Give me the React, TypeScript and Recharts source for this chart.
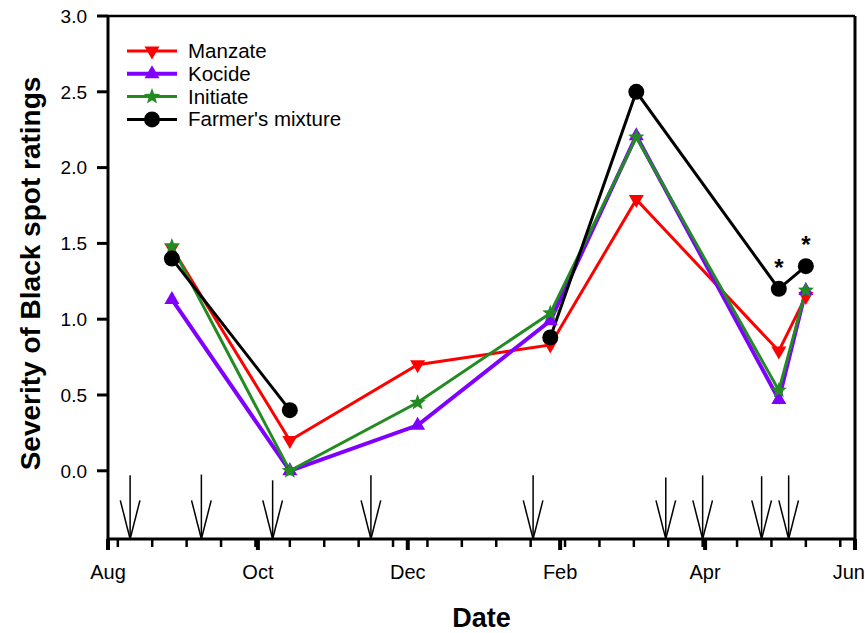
import React from 'react';
import {
  LineChart,
  Line,
  XAxis,
  YAxis,
  ReferenceLine,
  Legend,
  LabelList,
} from 'recharts';

// season runs Aug 1 -> Jun 1 (x axis is days since seasonStart)
const seasonStart = '2014-08-01';
const seasonEnd = '2015-06-01';

const sampleDates = [
  '2014-08-27',
  '2014-10-14',
  '2014-12-05',
  '2015-01-28',
  '2015-03-04',
  '2015-05-01',
  '2015-05-12',
];
const manzate = [1.47, 0.2, 0.7, 0.83, 1.79, 0.79, 1.15];
const kocide = [1.13, 0.0, 0.3, 0.99, 2.21, 0.47, 1.19];
const initiate = [1.48, 0.0, 0.45, 1.04, 2.2, 0.53, 1.19];
const farmers = [1.4, 0.4, null, 0.88, 2.5, 1.2, 1.35];
const farmersStar = [false, false, false, false, false, true, true];

// spray applications (arrows under the zero line)
const sprayDates = [
  '2014-08-10',
  '2014-09-08',
  '2014-10-07',
  '2014-11-16',
  '2015-01-21',
  '2015-03-16',
  '2015-03-31',
  '2015-04-24',
  '2015-05-05',
];
const sprayArrowTop = [-0.03, -0.025, -0.063, -0.03, -0.03, -0.045, -0.03, -0.036, -0.03];

const monthLabels = ['Aug', 'Oct', 'Dec', 'Feb', 'Apr', 'Jun'];
const monthDates = ['2014-08-01', '2014-10-01', '2014-12-01', '2015-02-01', '2015-04-01', '2015-06-01'];
const minorTickDays = [4, 18, 32, 46, 60, 74, 88, 102, 116, 130, 144, 158, 172, 186, 200, 214, 228, 242, 256, 270, 284, 298];
const yTicks = [0, 0.5, 1, 1.5, 2, 2.5, 3];
const yMin = -0.45;
const yMax = 3;

const FONT = 'Liberation Sans, Arial, Helvetica, sans-serif';
const RED = '#FF0000';
const PURPLE = '#7F00FF';
const GREEN = '#228B22';

const dayOf = (iso: string) =>
  Math.round((Date.parse(iso) - Date.parse(seasonStart)) / 86400000);

const endDay = dayOf(seasonEnd);
const monthDays = monthDates.map(dayOf);
const allTicks = [...monthDays, ...minorTickDays].sort((a, b) => a - b);

const data = sampleDates.map((d, i) => ({
  day: dayOf(d),
  manzate: manzate[i],
  kocide: kocide[i],
  initiate: initiate[i],
  farmers: farmers[i],
}));

// marker shapes
function TriDown({ cx, cy, fill }: any) {
  return <polygon points={`${cx - 7.5},${cy - 4.5} ${cx + 7.5},${cy - 4.5} ${cx},${cy + 8.5}`} fill={fill} />;
}
function TriUp({ cx, cy, fill }: any) {
  return <polygon points={`${cx - 7.5},${cy + 4.5} ${cx + 7.5},${cy + 4.5} ${cx},${cy - 8.5}`} fill={fill} />;
}
function Star({ cx, cy, fill }: any) {
  const pts: string[] = [];
  for (let k = 0; k < 10; k++) {
    const r = k % 2 === 0 ? 8.5 : 3.6;
    const a = -Math.PI / 2 + (k * Math.PI) / 5;
    pts.push(`${cx + r * Math.cos(a)},${cy + r * Math.sin(a)}`);
  }
  return <polygon points={pts.join(' ')} fill={fill} />;
}
function Dot({ cx, cy, fill }: any) {
  return <circle cx={cx} cy={cy} r={8} fill={fill} />;
}

const makeDot = (Shape: any, color: string, name: string) => (p: any) => {
  if (p.cy == null || p.value == null) return <g key={`${name}-${p.index}`} />;
  return (
    <g key={`${name}-${p.index}`}>
      <Shape cx={p.cx} cy={p.cy} fill={color} />
    </g>
  );
};

const legendItems = [
  { name: 'Manzate', color: RED, Shape: TriDown, width: 3 },
  { name: 'Kocide', color: PURPLE, Shape: TriUp, width: 4 },
  { name: 'Initiate', color: GREEN, Shape: Star, width: 3 },
  { name: "Farmer's mixture", color: '#000', Shape: Dot, width: 3 },
];

function renderLegend() {
  return (
    <svg width={240} height={94} style={{ display: 'block' }}>
      {legendItems.map((it, i) => {
        const y = 11 + i * 22.8;
        return (
          <g key={it.name}>
            <line x1={0} x2={50} y1={y} y2={y} stroke={it.color} strokeWidth={it.width} />
            <it.Shape cx={25} cy={y} fill={it.color} />
            <text x={61} y={y + 7} fontSize={20.5} fontFamily={FONT} fill="#000">
              {it.name}
            </text>
          </g>
        );
      })}
    </svg>
  );
}

function XTick({ x, y, payload }: any) {
  const idx = monthDays.indexOf(payload.value);
  const major = idx >= 0;
  const last = idx === monthDays.length - 1;
  return (
    <g>
      <line
        x1={x}
        x2={x}
        y1={y}
        y2={y + (major ? 11 : 8)}
        stroke="#000"
        strokeWidth={major ? 4 : 2.5}
      />
      {major && (
        <text
          x={last ? x + 10 : x}
          y={y + 40}
          textAnchor={last ? 'end' : 'middle'}
          fontSize={20}
          fontFamily={FONT}
          fill="#000"
        >
          {monthLabels[idx]}
        </text>
      )}
    </g>
  );
}

function StarLabel(props: any) {
  const { x, y, index } = props;
  if (!farmersStar[index] || y == null) return null;
  return (
    <text x={x} y={y - 13} textAnchor="middle" fontSize={24} fontWeight="bold" fontFamily={FONT} fill="#000">
      *
    </text>
  );
}

function YTitle({ viewBox }: any) {
  const cx = 30;
  const cy = viewBox.y + viewBox.height / 2 - 4;
  return (
    <text
      x={cx}
      y={cy}
      transform={`rotate(-90, ${cx}, ${cy})`}
      textAnchor="middle"
      dy={10}
      fontSize={28}
      fontWeight="bold"
      fontFamily={FONT}
      fill="#000"
    >
      Severity of Black spot ratings
    </text>
  );
}

export default function App() {
  return (
    <div style={{ position: 'absolute', left: 0, top: 0, background: '#fff' }}>
      <LineChart
        width={865}
        height={633}
        data={data}
        margin={{ top: 16, right: 10, bottom: 0, left: 0 }}
      >
        <XAxis
          dataKey="day"
          type="number"
          domain={[0, endDay]}
          ticks={allTicks}
          interval={0}
          tick={<XTick />}
          tickSize={0}
          tickMargin={0}
          tickLine={false}
          axisLine={{ stroke: '#000', strokeWidth: 3 }}
          height={94}
          label={{
            value: 'Date',
            position: 'insideBottom',
            offset: 6,
            style: { fontSize: 27, fontWeight: 'bold', fontFamily: FONT, fill: '#000' },
          }}
        />
        <YAxis
          type="number"
          domain={[yMin, yMax]}
          ticks={yTicks}
          interval={0}
          width={108}
          tickFormatter={(v: number) => v.toFixed(1)}
          tick={{ fontSize: 19, fontFamily: FONT, fill: '#000' }}
          tickSize={11}
          tickMargin={10}
          tickLine={{ stroke: '#000', strokeWidth: 3 }}
          axisLine={{ stroke: '#000', strokeWidth: 3 }}
          label={{ content: <YTitle /> }}
        />
        {/* frame: top and right borders */}
        <ReferenceLine y={yMax} stroke="#000" strokeWidth={2.5} />
        <ReferenceLine x={endDay} stroke="#000" strokeWidth={3} />

        {/* spray arrows */}
        {sprayDates.map((d, i) => {
          const dx = dayOf(d);
          return (
            <React.Fragment key={d}>
              <ReferenceLine
                segment={[{ x: dx, y: sprayArrowTop[i] }, { x: dx, y: yMin }]}
                stroke="#000"
                strokeWidth={1.5}
              />
              <ReferenceLine
                segment={[{ x: dx - 4, y: -0.195 }, { x: dx, y: yMin }]}
                stroke="#000"
                strokeWidth={1.5}
              />
              <ReferenceLine
                segment={[{ x: dx + 4, y: -0.195 }, { x: dx, y: yMin }]}
                stroke="#000"
                strokeWidth={1.5}
              />
            </React.Fragment>
          );
        })}

        <Line
          type="linear"
          dataKey="manzate"
          name="Manzate"
          stroke={RED}
          strokeWidth={3}
          dot={makeDot(TriDown, RED, 'm')}
          activeDot={false}
          isAnimationActive={false}
        />
        <Line
          type="linear"
          dataKey="kocide"
          name="Kocide"
          stroke={PURPLE}
          strokeWidth={4}
          dot={makeDot(TriUp, PURPLE, 'k')}
          activeDot={false}
          isAnimationActive={false}
        />
        <Line
          type="linear"
          dataKey="initiate"
          name="Initiate"
          stroke={GREEN}
          strokeWidth={3}
          dot={makeDot(Star, GREEN, 'i')}
          activeDot={false}
          isAnimationActive={false}
        />
        <Line
          type="linear"
          dataKey="farmers"
          name="Farmer's mixture"
          stroke="#000"
          strokeWidth={3}
          dot={makeDot(Dot, '#000', 'f')}
          activeDot={false}
          isAnimationActive={false}
        >
          <LabelList dataKey="farmers" content={<StarLabel />} />
        </Line>

        <Legend
          content={renderLegend}
          layout="vertical"
          align="center"
          verticalAlign="middle"
          wrapperStyle={{ top: 40, left: 127, width: 240, height: 94 }}
        />
      </LineChart>
    </div>
  );
}
